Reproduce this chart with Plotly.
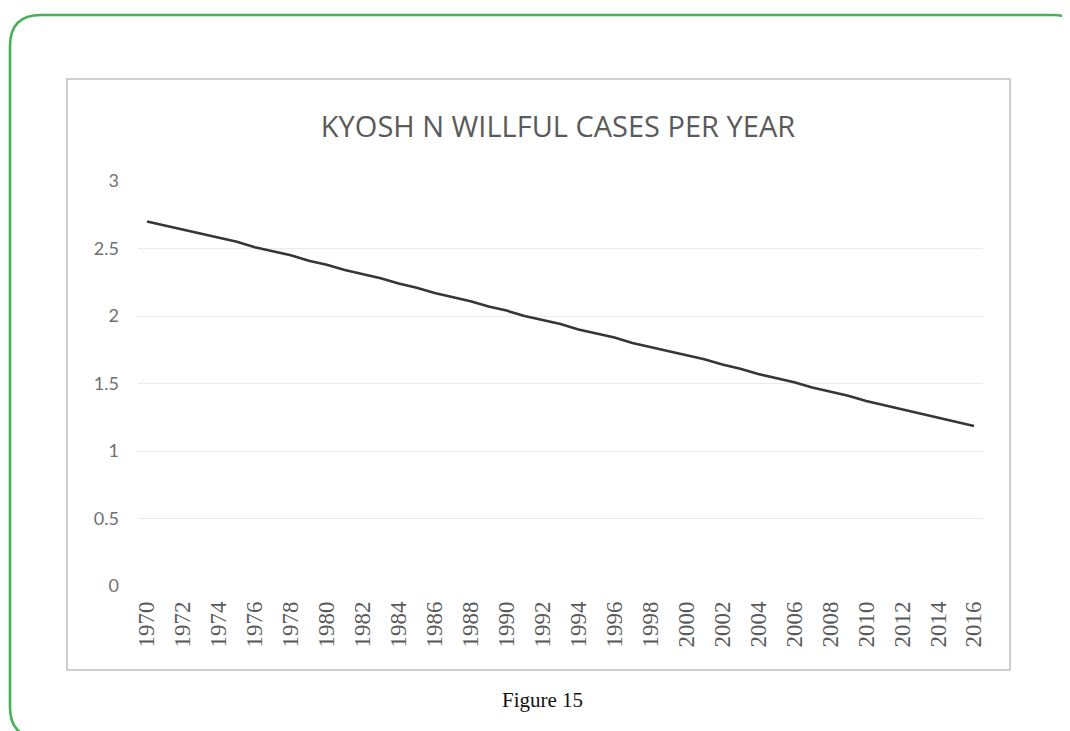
import plotly.graph_objects as go

# data
years = list(range(1970, 2017))
cases = [2.70, 2.67, 2.64, 2.61, 2.58, 2.55, 2.51, 2.48, 2.45, 2.41,
         2.38, 2.34, 2.31, 2.28, 2.24, 2.21, 2.17, 2.14, 2.11, 2.07,
         2.04, 2.00, 1.97, 1.94, 1.90, 1.87, 1.84, 1.80, 1.77, 1.74,
         1.71, 1.68, 1.64, 1.61, 1.57, 1.54, 1.51, 1.47, 1.44, 1.41,
         1.37, 1.34, 1.31, 1.28, 1.25, 1.22, 1.185]
tick_years = list(range(1970, 2017, 2))
y_ticks = [0, 0.5, 1, 1.5, 2, 2.5, 3]
y_labels = ["0", "0.5", "1", "1.5", "2", "2.5", "3"]

# page body has an 8px margin, so work in screen pixels minus 8
OFF = 8
W, H = 1070 - OFF, 731 - OFF
L, T = 138 - OFF, 181 - OFF
R, B = 1070 - 983, 731 - 586
PW, PH = W - L - R, H - T - B


def px(x):
    return (x - OFF - L) / PW


def py(y):
    return (H - B - (y - OFF)) / PH


fig = go.Figure()
fig.add_trace(go.Scatter(
    x=years, y=cases, mode="lines",
    line=dict(color="#363636", width=2.6),
    hoverinfo="x+y", showlegend=False,
))

# green rounded frame (runs off right and bottom of the page)
gl, gt, gr, gb, rad = 10, 15, 1084, 738, 31
frame = (
    f"M {px(gl)},{py(gb - rad)} L {px(gl)},{py(gt + rad)} "
    f"Q {px(gl)},{py(gt)} {px(gl + rad)},{py(gt)} "
    f"L {px(gr - rad)},{py(gt)} Q {px(gr)},{py(gt)} {px(gr)},{py(gt + rad)} "
    f"L {px(gr)},{py(gb - rad)} Q {px(gr)},{py(gb)} {px(gr - rad)},{py(gb)} "
    f"L {px(gl + rad)},{py(gb)} Q {px(gl)},{py(gb)} {px(gl)},{py(gb - rad)} Z"
)

fig.update_layout(
    width=W, height=H,
    margin=dict(l=L, r=R, t=T, b=B),
    paper_bgcolor="white", plot_bgcolor="white",
    title=dict(
        text="KYOSH N WILLFUL CASES PER YEAR",
        xref="container", x=(558 - OFF) / W, xanchor="center",
        yref="container", y=1 - (127 - OFF) / H, yanchor="middle",
        font=dict(family="Open Sans", size=29, color="#5a5a5a"),
    ),
    xaxis=dict(
        range=[1969.5, 2016.5], tickvals=tick_years, tickangle=-90,
        showgrid=False, zeroline=False, showline=False, ticks="",
        ticklabelstandoff=10,
        tickfont=dict(family="Liberation Serif", size=23, color="#595959"),
    ),
    yaxis=dict(
        range=[0, 3], tickvals=y_ticks, ticktext=y_labels,
        showgrid=True, gridcolor="#ebebeb", gridwidth=1.3,
        zeroline=False, showline=False, ticks="", ticklabelstandoff=18,
        tickfont=dict(family="Lato", size=18, color="#707070"),
    ),
    shapes=[
        dict(type="path", xref="paper", yref="paper", path=frame,
             line=dict(color="#46b155", width=2.6), layer="below"),
        dict(type="rect", xref="paper", yref="paper",
             x0=px(67), x1=px(1010), y0=py(670), y1=py(79),
             line=dict(color="#c2c2c2", width=1.6), layer="below"),
    ],
    annotations=[
        dict(text="Figure 15", xref="paper", yref="paper",
             x=px(542), y=py(700), xanchor="center", yanchor="middle",
             showarrow=False,
             font=dict(family="Liberation Serif", size=21, color="#111111")),
    ],
)

fig.write_html("out.html")
